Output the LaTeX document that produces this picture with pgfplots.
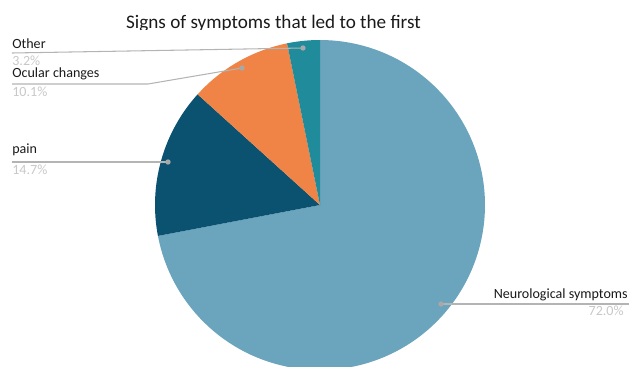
\documentclass[border=0pt]{standalone}
\usepackage{fontspec}
\setmainfont{Carlito}
\usepackage{pgfplots}
\usepackage{pgfplotstable}
\pgfplotsset{compat=1.18}
\definecolor{cNeuro}{HTML}{6AA4BD}
\definecolor{cPain}{HTML}{0B5170}
\definecolor{cOcular}{HTML}{EF8446}
\definecolor{cOther}{HTML}{1F8B9B}
\definecolor{cLine}{HTML}{B4B4B4}
\definecolor{cDot}{HTML}{A8A8A8}
\definecolor{cPct}{HTML}{C8C8C8}
\definecolor{cText}{HTML}{1A1A1A}
\pgfplotstableread{
pct
72.0
14.7
10.1
3.2
}\piedata
\begin{document}
\begin{tikzpicture}
\pgfplotstablegetelem{0}{pct}\of\piedata \let\pA\pgfplotsretval
\pgfplotstablegetelem{1}{pct}\of\piedata \let\pB\pgfplotsretval
\pgfplotstablegetelem{2}{pct}\of\piedata \let\pC\pgfplotsretval
\pgfplotstablegetelem{3}{pct}\of\piedata \let\pD\pgfplotsretval
\pgfmathsetmacro\aO{90}
\pgfmathsetmacro\aA{\aO-3.6*\pA}
\pgfmathsetmacro\aB{\aA-3.6*\pB}
\pgfmathsetmacro\aC{\aB-3.6*\pC}
\pgfmathsetmacro\aD{\aC-3.6*\pD}
\begin{axis}[
  scale only axis, width=12.58cm, height=7.32cm,
  xmin=0, xmax=629, ymin=0, ymax=366, y dir=reverse,
  hide axis, clip=true,
]
\addplot[draw=none, fill=cNeuro, domain=\aA:\aO, samples=120, variable=\t]
  ({320+165*cos(t)},{205-165*sin(t)}) -- (axis cs:320,205) -- cycle;
\addplot[draw=none, fill=cPain, domain=\aB:\aA, samples=40, variable=\t]
  ({320+165*cos(t)},{205-165*sin(t)}) -- (axis cs:320,205) -- cycle;
\addplot[draw=none, fill=cOcular, domain=\aC:\aB, samples=30, variable=\t]
  ({320+165*cos(t)},{205-165*sin(t)}) -- (axis cs:320,205) -- cycle;
\addplot[draw=none, fill=cOther, domain=\aD:\aC, samples=15, variable=\t]
  ({320+165*cos(t)},{205-165*sin(t)}) -- (axis cs:320,205) -- cycle;
% leader lines
\addplot[cLine, line width=0.6pt, mark=*, mark size=1.2pt, mark options={fill=cDot, draw=cDot}, mark indices={1}]
  coordinates {(303,48) (12,53)};
\addplot[cLine, line width=0.6pt, mark=*, mark size=1.2pt, mark options={fill=cDot, draw=cDot}, mark indices={1}]
  coordinates {(242,68) (148,84) (12,84)};
\addplot[cLine, line width=0.6pt, mark=*, mark size=1.2pt, mark options={fill=cDot, draw=cDot}, mark indices={1}]
  coordinates {(168,162) (12,162)};
\addplot[cLine, line width=0.6pt, mark=*, mark size=1.2pt, mark options={fill=cDot, draw=cDot}, mark indices={1}]
  coordinates {(441,304) (629,304)};
% labels
\node[anchor=base west, inner sep=0pt, text=cText, font=\fontsize{8}{9}\selectfont] at (axis cs:12,48) {Other};
\node[anchor=base west, inner sep=0pt, text=cPct, font=\fontsize{8}{9}\selectfont] at (axis cs:12,65) {3.2\%};
\node[anchor=base west, inner sep=0pt, text=cText, font=\fontsize{8}{9}\selectfont] at (axis cs:12,77) {Ocular changes};
\node[anchor=base west, inner sep=0pt, text=cPct, font=\fontsize{8}{9}\selectfont] at (axis cs:12,96) {10.1\%};
\node[anchor=base west, inner sep=0pt, text=cText, font=\fontsize{8}{9}\selectfont] at (axis cs:12,153) {pain};
\node[anchor=base west, inner sep=0pt, text=cPct, font=\fontsize{8}{9}\selectfont] at (axis cs:12,174) {14.7\%};
\node[anchor=base east, inner sep=0pt, text=cText, font=\fontsize{8}{9}\selectfont] at (axis cs:628,298) {Neurological symptoms};
\node[anchor=base east, inner sep=0pt, text=cPct, font=\fontsize{8}{9}\selectfont] at (axis cs:624,315) {72.0\%};
% title
\node[anchor=base, inner sep=0pt, text=cText, font=\fontsize{10.9}{12}\selectfont] at (axis cs:273.5,28) {Signs of symptoms that led to the first};
\fill[white] (axis cs:115,29.5) rectangle (axis cs:430,37);
\end{axis}
\pgfresetboundingbox
\path (current axis.south west) rectangle (current axis.north east);
\end{tikzpicture}
\end{document}
